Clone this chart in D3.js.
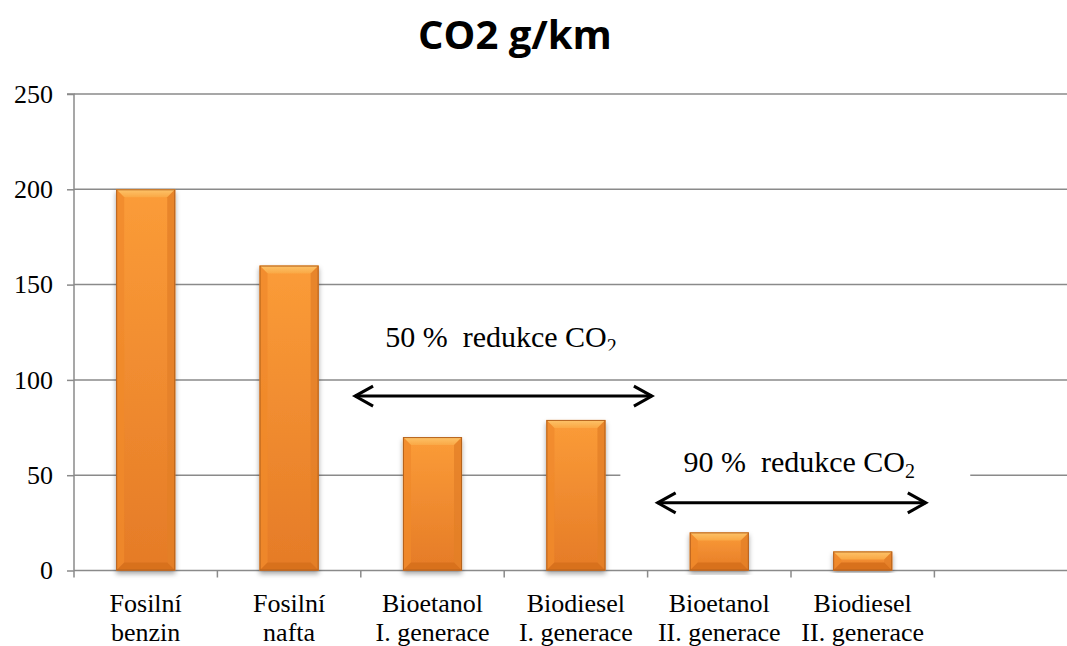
<!DOCTYPE html>
<html>
<head>
<meta charset="utf-8">
<script src="https://cdn.jsdelivr.net/npm/d3@7"></script>
<style>
  body { margin: 0; background: #fff; overflow: hidden; }
  svg text { font-family: "Liberation Serif", "Times New Roman", serif; }
</style>
</head>
<body>
<div id="container"></div>
<script>
const width = 1067,
  height = 646,
  margin = { top: 94, bottom: 75, left: 74, right: 0 };

/* DATA */
const line1 = ["Fosilní", "Fosilní", "Bioetanol", "Biodiesel", "Bioetanol", "Biodiesel"];
const line2 = ["benzin", "nafta", "I. generace", "I. generace", "II. generace", "II. generace"];
const values = [200, 160, 70, 79, 20, 10];
const yTicks = [0, 50, 100, 150, 200, 250];
// annotations: from/to in category slots, y in data units
const notes = [
  { text: "50 %  redukce CO", sub: "2", x: 2.17, y: 117, from: 1.96, to: 4.03, ay: 91.5, clip: true },
  { text: "90 %  redukce CO", sub: "2", x: 4.25, y: 51.5, from: 4.07, to: 5.94, ay: 35.5, clip: false }
];

const keys = line1.map((d, i) => i);
keys.push(6); // empty slot on the right

/* SCALES */
const step = 143.4;
const xScale = d3.scaleBand()
  .domain(keys)
  .range([margin.left, margin.left + step * keys.length])
  .padding(0);

const yScale = d3.scaleLinear()
  .domain([0, 250])
  .range([height - margin.bottom - 0.5, margin.top]);

const slotX = s => margin.left + s * xScale.step();

const svg = d3.select("#container")
  .append("svg")
  .attr("width", width)
  .attr("height", height);

const defs = svg.append("defs");
const g1 = defs.append("linearGradient").attr("id", "barFill").attr("x1", 0).attr("x2", 0).attr("y1", 0).attr("y2", 1);
g1.append("stop").attr("offset", "0%").attr("stop-color", "#fb9c38");
g1.append("stop").attr("offset", "100%").attr("stop-color", "#e57b27");
const g2 = defs.append("linearGradient").attr("id", "bevelTop").attr("x1", 0).attr("x2", 0).attr("y1", 0).attr("y2", 1);
g2.append("stop").attr("offset", "0%").attr("stop-color", "#fdc46a");
g2.append("stop").attr("offset", "100%").attr("stop-color", "#faa845");
const shadow = defs.append("filter").attr("id", "shadow").attr("x", "-20%").attr("y", "-5%").attr("width", "140%").attr("height", "115%");
shadow.append("feDropShadow").attr("dx", 0).attr("dy", 3).attr("stdDeviation", 2.5)
  .attr("flood-color", "#000").attr("flood-opacity", 0.35);
defs.append("clipPath").attr("id", "clipNote")
  .append("rect").attr("x", 0).attr("y", 0).attr("width", width).attr("height", yScale(notes[0].y) + 3);

/* TITLE */
svg.append("text")
  .attr("x", 515)
  .attr("y", 49)
  .attr("text-anchor", "middle")
  .style("font-family", "'Open Sans', sans-serif")
  .style("font-weight", "bold")
  .style("font-size", "40px")
  .text("CO2 g/km");

/* GRIDLINES */
svg.append("g")
  .selectAll("line")
  .data(yTicks.slice(1))
  .join("line")
  .attr("x1", margin.left)
  .attr("x2", width)
  .attr("y1", d => yScale(d))
  .attr("y2", d => yScale(d))
  .attr("stroke", "#8a8a8a")
  .attr("stroke-width", 1.5);

/* Y AXIS */
const yAxis = d3.axisLeft(yScale).tickValues(yTicks).tickSize(7).tickPadding(14);
svg.append("g")
  .attr("transform", `translate(${margin.left}, 0)`)
  .call(yAxis)
  .attr("font-family", null)
  .call(g => g.select(".domain").attr("stroke", "#8a8a8a").attr("stroke-width", 1.5).attr("d", `M-7,${yScale(250)}H0V${yScale(0)}`))
  .call(g => g.selectAll(".tick line").attr("stroke", "#8a8a8a").attr("stroke-width", 1.5))
  .call(g => g.selectAll(".tick text").attr("fill", "#000").style("font-size", "26px").style("font-family", "'Liberation Serif', serif"));

/* X AXIS */
const xg = svg.append("g");
xg.append("line")
  .attr("x1", margin.left).attr("x2", width)
  .attr("y1", yScale(0)).attr("y2", yScale(0))
  .attr("stroke", "#8a8a8a").attr("stroke-width", 1.5);
xg.selectAll(".xt")
  .data(keys)
  .join("line")
  .attr("x1", d => xScale(d)).attr("x2", d => xScale(d))
  .attr("y1", yScale(0)).attr("y2", yScale(0) + 7)
  .attr("stroke", "#8a8a8a").attr("stroke-width", 1.5);

const labels = xg.selectAll(".xl")
  .data(line1)
  .join("text")
  .attr("text-anchor", "middle")
  .style("font-size", "26px")
  .attr("fill", "#000");
labels.append("tspan")
  .attr("x", (d, i) => xScale(i) + xScale.bandwidth() / 2)
  .attr("y", 612)
  .text(d => d);
labels.append("tspan")
  .attr("x", (d, i) => xScale(i) + xScale.bandwidth() / 2)
  .attr("y", 641)
  .text((d, i) => line2[i]);

/* BARS */
const barW = xScale.bandwidth() * 0.412;
const bars = svg.append("g")
  .selectAll("g")
  .data(values)
  .join("g")
  .attr("filter", "url(#shadow)");

bars.each(function (d, i) {
  const x0 = xScale(i) + (xScale.bandwidth() - barW) / 2;
  const x1 = x0 + barW;
  const y0 = yScale(d);
  const y1 = yScale(0);
  const b = Math.min(8, (y1 - y0) / 2);
  const g = d3.select(this);
  g.append("rect")
    .attr("x", x0).attr("y", y0)
    .attr("width", barW).attr("height", y1 - y0)
    .attr("fill", "url(#barFill)");
  // bevel top
  g.append("polygon")
    .attr("points", [[x0, y0], [x1, y0], [x1 - b, y0 + b], [x0 + b, y0 + b]].join(" "))
    .attr("fill", "url(#bevelTop)");
  // bevel sides
  g.append("polygon")
    .attr("points", [[x0, y0], [x0 + b, y0 + b], [x0 + b, y1 - b], [x0, y1]].join(" "))
    .attr("fill", "#f08a2c").attr("opacity", 0.8);
  g.append("polygon")
    .attr("points", [[x1, y0], [x1 - b, y0 + b], [x1 - b, y1 - b], [x1, y1]].join(" "))
    .attr("fill", "#e47f28").attr("opacity", 0.8);
  // bevel bottom
  g.append("polygon")
    .attr("points", [[x0, y1], [x1, y1], [x1 - b, y1 - b], [x0 + b, y1 - b]].join(" "))
    .attr("fill", "#d8711f");
  g.append("rect")
    .attr("x", x0 + 0.5).attr("y", y0 + 0.5)
    .attr("width", barW - 1).attr("height", y1 - y0 - 1)
    .attr("fill", "none")
    .attr("stroke", "#b5621e").attr("stroke-width", 1);
});

/* ANNOTATIONS */
// white text box of the second note hides the gridline
svg.append("rect")
  .attr("x", slotX(3.81))
  .attr("y", yScale(65))
  .attr("width", slotX(6.25) - slotX(3.81))
  .attr("height", yScale(41) - yScale(65))
  .attr("fill", "#fff");

const noteText = svg.append("g")
  .selectAll("text")
  .data(notes)
  .join("text")
  .attr("x", d => slotX(d.x))
  .attr("y", d => yScale(d.y))
  .attr("clip-path", d => d.clip ? "url(#clipNote)" : null)
  .style("font-size", "30px")
  .style("white-space", "pre")
  .attr("fill", "#000");
noteText.append("tspan").text(d => d.text);
noteText.append("tspan")
  .attr("dy", 6)
  .style("font-size", "20px")
  .text(d => d.sub);

const arrows = svg.append("g")
  .selectAll("g")
  .data(notes)
  .join("g")
  .attr("fill", "none")
  .attr("stroke", "#000")
  .attr("stroke-width", 3);
arrows.append("line")
  .attr("x1", d => slotX(d.from)).attr("x2", d => slotX(d.to))
  .attr("y1", d => yScale(d.ay)).attr("y2", d => yScale(d.ay));
arrows.append("path")
  .attr("d", d => {
    const a = slotX(d.from), c = slotX(d.to), y = yScale(d.ay);
    return `M${a + 18},${y - 10}L${a},${y}L${a + 18},${y + 10}M${c - 18},${y - 10}L${c},${y}L${c - 18},${y + 10}`;
  });
</script>
</body>
</html>
